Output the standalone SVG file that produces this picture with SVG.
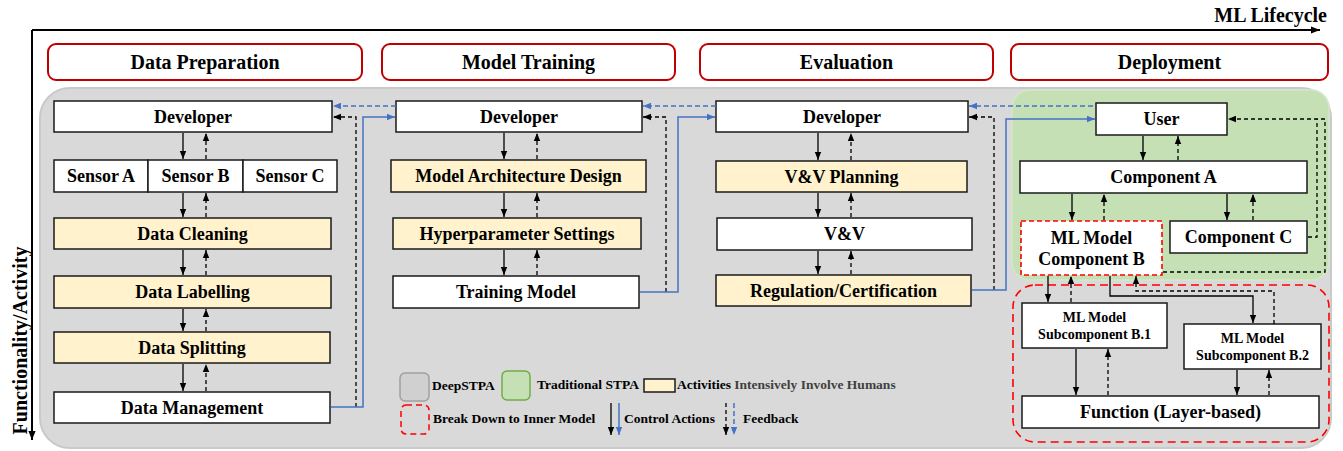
<svg xmlns="http://www.w3.org/2000/svg" width="1343" height="451" viewBox="0 0 1343 451">
<defs>
<style>
.t{font-family:"Liberation Serif","Times New Roman",serif;font-weight:bold;fill:#000;text-anchor:middle}
.n{font-size:18px}
.h{font-size:20px}
.s{font-size:14px}
.l{font-size:13.5px;text-anchor:start}
.box{fill:#fff;stroke:#1a1a1a;stroke-width:1.5}
.act{fill:#fff2cc;stroke:#1a1a1a;stroke-width:1.5}
.hdr{fill:#fff;stroke:#c00000;stroke-width:2}
.ca{stroke:#000;stroke-width:1.3;fill:none}
.fb{stroke:#000;stroke-width:1.3;fill:none;stroke-dasharray:4 3}
.bca{stroke:#4472c4;stroke-width:1.5;fill:none}
.bfb{stroke:#4472c4;stroke-width:1.5;fill:none;stroke-dasharray:5 3}
.axis{stroke:#000;stroke-width:2;fill:none}
</style>
<marker id="ma" viewBox="0 0 10 10" refX="10" refY="5" markerWidth="8" markerHeight="8" orient="auto" markerUnits="userSpaceOnUse"><path d="M0,1 L10,5 L0,9 z" fill="#000"/></marker>
<marker id="mb" viewBox="0 0 10 10" refX="10" refY="5" markerWidth="8" markerHeight="8" orient="auto" markerUnits="userSpaceOnUse"><path d="M0,1 L10,5 L0,9 z" fill="#4472c4"/></marker>
<marker id="mx" viewBox="0 0 10 10" refX="10" refY="5" markerWidth="9" markerHeight="9" orient="auto" markerUnits="userSpaceOnUse"><path d="M0,1 L10,5 L0,9 z" fill="#000"/></marker>
</defs>
<rect x="0" y="0" width="1343" height="451" fill="#fff"/>

<!-- axes -->
<g id="axes">
<path class="axis" d="M32,30 H1320" marker-end="url(#mx)"/>
<path class="axis" d="M32,30 V440" marker-end="url(#mx)"/>
<text class="t h" x="1327" y="22" style="text-anchor:end">ML Lifecycle</text>
<text class="t h" transform="translate(27,340.5) rotate(-90)">Functionality/Activity</text>
</g>

<!-- regions -->
<g id="regions">
<rect x="40" y="88" width="1291" height="360" rx="30" fill="#d9d9d9" stroke="#c9c9c9" stroke-width="2"/>
<rect x="1012" y="90" width="317" height="190" rx="18" fill="#c5e0b4" stroke="#d5e6cb" stroke-width="1.5"/>
<rect x="1013" y="285" width="316" height="157" rx="22" fill="none" stroke="#ff0000" stroke-width="1.6" stroke-dasharray="8 5"/>
</g>

<!-- headers -->
<g id="hdr-data-preparation"><rect class="hdr" x="48" y="44" width="314" height="36" rx="8"/><text class="t h" x="205" y="69">Data Preparation</text></g>
<g id="hdr-model-training"><rect class="hdr" x="382" y="44" width="293" height="36" rx="8"/><text class="t h" x="528.5" y="69">Model Training</text></g>
<g id="hdr-evaluation"><rect class="hdr" x="700" y="44" width="293" height="36" rx="8"/><text class="t h" x="846.5" y="69">Evaluation</text></g>
<g id="hdr-deployment"><rect class="hdr" x="1011" y="44" width="317" height="36" rx="8"/><text class="t h" x="1169.5" y="69">Deployment</text></g>

<!-- Data Preparation column -->
<g id="dp-developer"><rect class="box" x="54" y="101" width="278" height="31"/><text class="t n" x="193" y="123">Developer</text></g>
<g id="dp-sensor-a"><rect class="box" x="54" y="160" width="94" height="32"/><text class="t n" x="101" y="182">Sensor A</text></g>
<g id="dp-sensor-b"><rect class="box" x="148" y="160" width="95" height="32"/><text class="t n" x="195.5" y="182">Sensor B</text></g>
<g id="dp-sensor-c"><rect class="box" x="243" y="160" width="94" height="32"/><text class="t n" x="290" y="182">Sensor C</text></g>
<g id="dp-cleaning"><rect class="act" x="54" y="218" width="277" height="31"/><text class="t n" x="192.5" y="240">Data Cleaning</text></g>
<g id="dp-labelling"><rect class="act" x="54" y="276" width="277" height="32"/><text class="t n" x="192.5" y="298">Data Labelling</text></g>
<g id="dp-splitting"><rect class="act" x="54" y="332" width="276" height="31"/><text class="t n" x="192" y="354">Data Splitting</text></g>
<g id="dp-management"><rect class="box" x="54" y="392" width="276" height="31"/><text class="t n" x="192" y="414">Data Management</text></g>

<!-- Model Training column -->
<g id="mt-developer"><rect class="box" x="396" y="101" width="246" height="31"/><text class="t n" x="519" y="123">Developer</text></g>
<g id="mt-architecture"><rect class="act" x="391" y="160" width="255" height="32"/><text class="t n" x="518.5" y="182">Model Architecture Design</text></g>
<g id="mt-hyper"><rect class="act" x="393" y="218" width="248" height="31"/><text class="t n" x="517" y="240">Hyperparameter Settings</text></g>
<g id="mt-training"><rect class="box" x="393" y="276" width="246" height="32"/><text class="t n" x="516" y="298">Training Model</text></g>

<!-- Evaluation column -->
<g id="ev-developer"><rect class="box" x="716" y="101" width="252" height="31"/><text class="t n" x="842" y="123">Developer</text></g>
<g id="ev-vvplanning"><rect class="act" x="716" y="161" width="251" height="31"/><text class="t n" x="841.5" y="183">V&amp;V Planning</text></g>
<g id="ev-vv"><rect class="box" x="717" y="218" width="255" height="32"/><text class="t n" x="844.5" y="240">V&amp;V</text></g>
<g id="ev-regulation"><rect class="act" x="716" y="275" width="255" height="31"/><text class="t n" x="843.5" y="297">Regulation/Certification</text></g>

<!-- Deployment -->
<g id="dep-user"><rect class="box" x="1096" y="103" width="131" height="32"/><text class="t n" x="1161.5" y="125">User</text></g>
<g id="dep-comp-a"><rect class="box" x="1020" y="161" width="287" height="32"/><text class="t n" x="1163.5" y="183">Component A</text></g>
<g id="dep-comp-b"><rect x="1021" y="221" width="141" height="54" fill="#fff" stroke="#ff0000" stroke-width="1.6" stroke-dasharray="5 3"/><text class="t n" x="1091.5" y="244">ML Model</text><text class="t n" x="1091.5" y="265">Component B</text></g>
<g id="dep-comp-c"><rect class="box" x="1170" y="221" width="137" height="32"/><text class="t n" x="1238.5" y="243">Component C</text></g>
<g id="dep-sub-b1"><rect class="box" x="1022" y="303" width="145" height="45"/><text class="t s" x="1094.5" y="322">ML Model</text><text class="t s" x="1094.5" y="339">Subcomponent B.1</text></g>
<g id="dep-sub-b2"><rect class="box" x="1184" y="324" width="137" height="45"/><text class="t s" x="1252.5" y="343">ML Model</text><text class="t s" x="1252.5" y="360">Subcomponent B.2</text></g>
<g id="dep-function"><rect class="box" x="1022" y="396" width="297" height="32"/><text class="t n" x="1170.5" y="418">Function (Layer-based)</text></g>

<!-- connectors -->
<g id="connectors">
<path class="ca" d="M183,133 V159" marker-end="url(#ma)"/><path class="fb" d="M206,159 V133" marker-end="url(#ma)"/>
<path class="ca" d="M183,193 V217" marker-end="url(#ma)"/><path class="fb" d="M206,217 V193" marker-end="url(#ma)"/>
<path class="ca" d="M183,250 V275" marker-end="url(#ma)"/><path class="fb" d="M206,275 V250" marker-end="url(#ma)"/>
<path class="ca" d="M183,309 V331" marker-end="url(#ma)"/><path class="fb" d="M206,331 V309" marker-end="url(#ma)"/>
<path class="ca" d="M183,364 V391" marker-end="url(#ma)"/><path class="fb" d="M206,391 V364" marker-end="url(#ma)"/>
<path class="ca" d="M504,133 V159" marker-end="url(#ma)"/><path class="fb" d="M537,159 V133" marker-end="url(#ma)"/>
<path class="ca" d="M504,193 V217" marker-end="url(#ma)"/><path class="fb" d="M537,217 V193" marker-end="url(#ma)"/>
<path class="ca" d="M504,250 V275" marker-end="url(#ma)"/><path class="fb" d="M537,275 V250" marker-end="url(#ma)"/>
<path class="ca" d="M818,133 V160" marker-end="url(#ma)"/><path class="fb" d="M851,160 V133" marker-end="url(#ma)"/>
<path class="ca" d="M818,193 V217" marker-end="url(#ma)"/><path class="fb" d="M851,217 V193" marker-end="url(#ma)"/>
<path class="ca" d="M818,251 V274" marker-end="url(#ma)"/><path class="fb" d="M851,274 V251" marker-end="url(#ma)"/>
<path class="bfb" d="M396,106 H333" marker-end="url(#mb)"/>
<path class="fb" d="M356,407 V117 H333" marker-end="url(#ma)"/>
<path class="bca" d="M331,407 H363 V117 H395" marker-end="url(#mb)"/>
<path class="bfb" d="M716,106 H643" marker-end="url(#mb)"/>
<path class="fb" d="M666,292 V117 H643" marker-end="url(#ma)"/>
<path class="bca" d="M640,292 H678 V117 H715" marker-end="url(#mb)"/>
<path class="bfb" d="M1093,106 H969" marker-end="url(#mb)"/>
<path class="fb" d="M994,290 V117 H969" marker-end="url(#ma)"/>
<path class="bca" d="M972,290 H1006 V119 H1095" marker-end="url(#mb)"/>
<path class="ca" d="M1143,136 V160" marker-end="url(#ma)"/><path class="fb" d="M1178,160 V136" marker-end="url(#ma)"/>
<path class="ca" d="M1072,194 V220" marker-end="url(#ma)"/><path class="fb" d="M1104,220 V194" marker-end="url(#ma)"/>
<path class="ca" d="M1227,194 V220" marker-end="url(#ma)"/><path class="fb" d="M1253,220 V194" marker-end="url(#ma)"/>
<path class="fb" d="M1163,272 H1325 V119 H1228" marker-end="url(#ma)"/>
<path class="fb" d="M1308,237 H1317 V119"/>
<path class="ca" d="M1048,276 V302" marker-end="url(#ma)"/><path class="fb" d="M1071,302 V276" marker-end="url(#ma)"/>
<path class="ca" d="M1110,276 V296 H1253 V323" marker-end="url(#ma)"/>
<path class="fb" d="M1274,324 V291 H1136 V276" marker-end="url(#ma)"/>
<path class="ca" d="M1076,349 V395" marker-end="url(#ma)"/><path class="fb" d="M1108,395 V349" marker-end="url(#ma)"/>
<path class="ca" d="M1237,370 V395" marker-end="url(#ma)"/><path class="fb" d="M1269,395 V370" marker-end="url(#ma)"/>
</g>

<!-- legend -->
<g id="legend">
<rect x="400" y="373" width="29" height="28" rx="5" fill="#d0d0d0" stroke="#a0a0a0" stroke-width="1.5"/>
<text class="t l" x="432" y="390">DeepSTPA</text>
<rect x="502" y="371" width="28" height="29" rx="5" fill="#c5e0b4" stroke="#70ad47" stroke-width="1.5"/>
<text class="t l" x="537" y="389">Traditional STPA</text>
<rect x="644" y="379" width="31" height="13" fill="#fff2cc" stroke="#1a1a1a" stroke-width="1.5"/>
<text class="t l" x="677" y="389">Activities<tspan fill="#404040"> Intensively Involve Humans</tspan></text>
<rect x="401" y="405" width="28" height="29" rx="5" fill="none" stroke="#ff0000" stroke-width="1.5" stroke-dasharray="6 4"/>
<text class="t l" x="433" y="423">Break Down to Inner Model</text>
<path class="ca" d="M611,403 V435" marker-end="url(#ma)"/>
<path class="bca" d="M619,403 V435" marker-end="url(#mb)"/>
<text class="t l" x="624" y="423">Control Actions</text>
<path class="fb" d="M726,403 V435" marker-end="url(#ma)"/>
<path class="bfb" d="M734,403 V435" marker-end="url(#mb)"/>
<text class="t l" x="743" y="423">Feedback</text>
</g>
</svg>
